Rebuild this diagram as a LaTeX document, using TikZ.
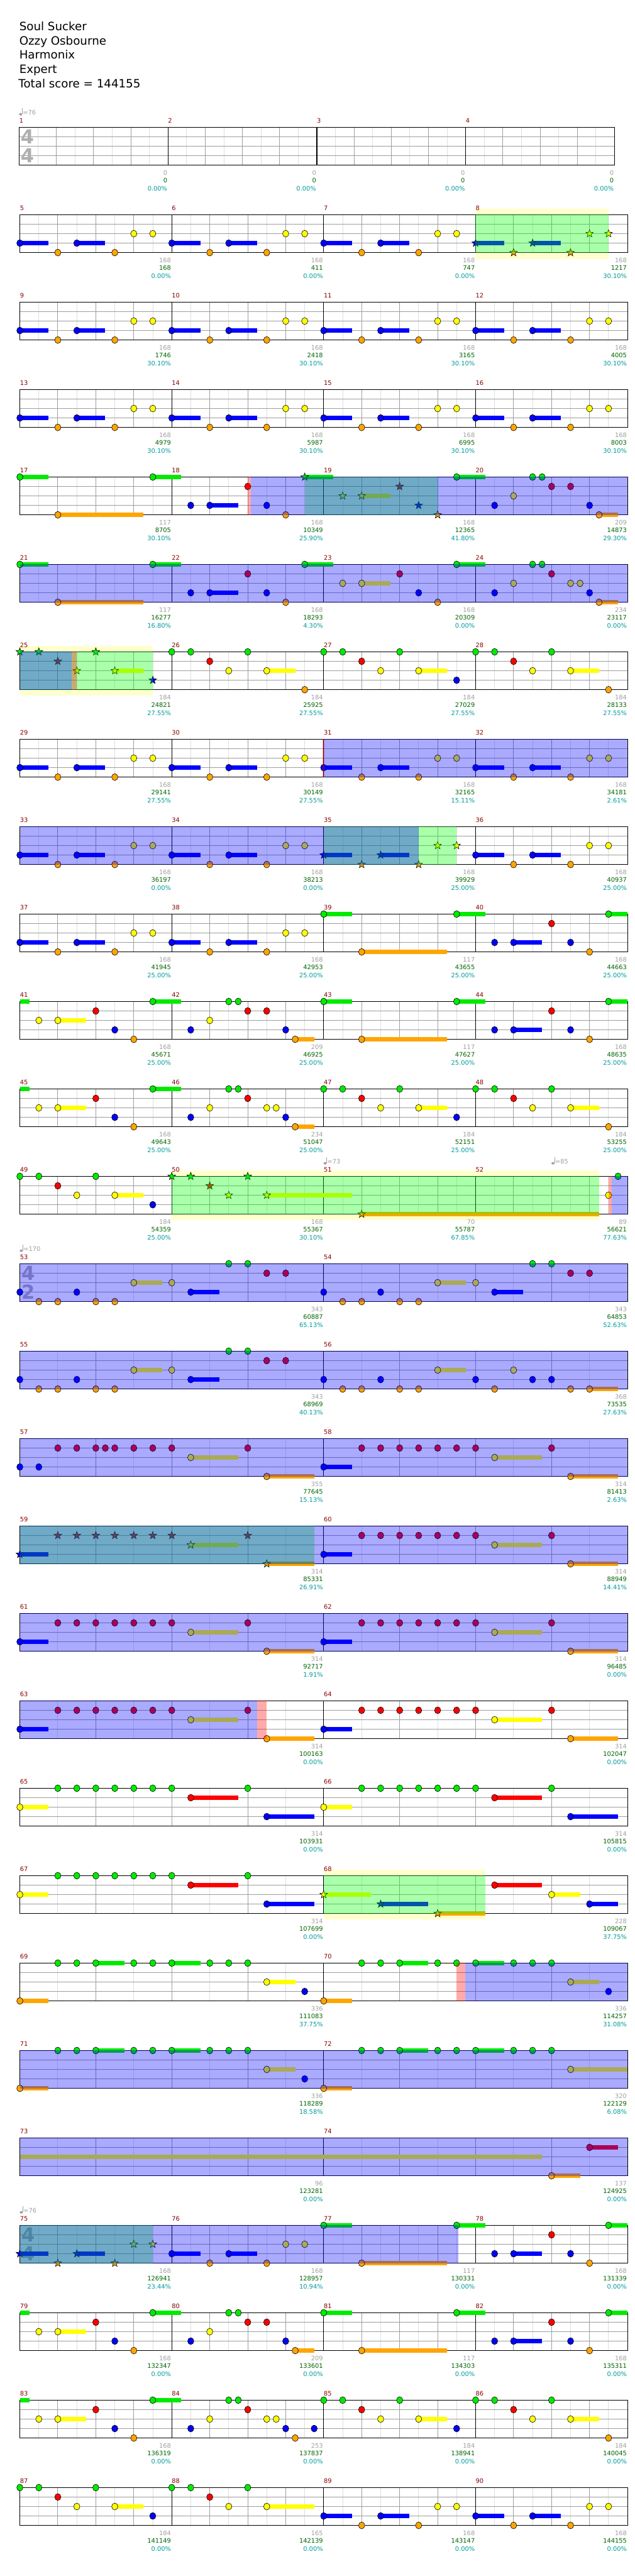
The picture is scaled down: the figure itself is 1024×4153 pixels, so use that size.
\documentclass[tikz,border=0pt]{standalone}
\usepackage{fontspec}
\setmainfont{DejaVu Sans}
\usepackage{tikz}

% fret colours (green, red, yellow, blue, orange)
\definecolor{fr0}{RGB}{0,235,0}
\definecolor{fr1}{RGB}{255,0,0}
\definecolor{fr2}{RGB}{255,255,0}
\definecolor{fr3}{RGB}{0,0,255}
\definecolor{fr4}{RGB}{255,165,0}
% text and grid colours
\definecolor{mnumc}{RGB}{139,0,0}
\definecolor{ptsc}{RGB}{160,160,160}
\definecolor{totc}{RGB}{0,100,0}
\definecolor{pctc}{RGB}{0,155,155}
\definecolor{tsigc}{RGB}{175,175,175}
\definecolor{bandc}{RGB}{255,255,206}
\definecolor{darkc}{RGB}{158,158,158}
\definecolor{lightc}{RGB}{222,222,222}

\tikzset{
  lane/.style={shift={(32,205.3+140.93*#1)},x=15.3125pt},
  rim/.style={draw=black,line width=0.6pt},
  lightln/.style={draw=lightc,line width=1pt},
  darkln/.style={draw=darkc,line width=1pt},
  barln/.style={draw=black,line width=1.1pt},
  smalltxt/.style={font=\fontsize{10}{12}\selectfont,inner sep=0pt},
  mnum/.style={smalltxt,text=mnumc,anchor=west},
  pts/.style={smalltxt,text=ptsc,anchor=east,xshift=-1pt},
  tot/.style={smalltxt,text=totc,anchor=east,xshift=-1pt},
  pct/.style={smalltxt,text=pctc,anchor=east,xshift=-1pt},
  hdr/.style={font=\fontsize{18.5}{23}\selectfont,anchor=base west,inner sep=0pt},
  tsig/.style={font=\bfseries\fontsize{31}{31}\selectfont,text=tsigc,inner sep=0pt}
}

% staff: light step, dark step, bar step (in ticks)
\newcommand{\drawgrid}[3]{%
  \fill[white] (0,0) rectangle (64,61);
  \foreach \t in {0,#1,...,64} {\draw[lightln] (\t,0) -- (\t,61);}
  \foreach \t in {0,#2,...,64} {\draw[darkln] (\t,0) -- (\t,61);}
  \foreach \f in {1,2,3} {\draw[darkln] (0,\f*15.25) -- (64,\f*15.25);}
  \foreach \t in {0,#3,...,64} {\draw[barln] (\t,0) -- (\t,61);}
  \draw[barln] (0,0) rectangle (64,61);}
% notes: tick, fret, sustain
\newcommand{\susbar}[3]{\fill[fr#2] (#1,#2*15.25-3.3) rectangle (#1+#3,#2*15.25+3.3);}
\newcommand{\gnote}[3]{\ifnum#3>0\relax\susbar{#1}{#2}{#3}\fi
  \filldraw[rim,fill=fr#2] (#1,#2*15.25) ellipse [x radius=5pt,y radius=5.5pt];}
\newcommand{\snote}[3]{\ifnum#3>0\relax\susbar{#1}{#2}{#3}\fi
  \filldraw[rim,fill=fr#2,shift={(#1,#2*15.25)}] (90:6.5pt) -- (126:2.7pt) -- (162:6.5pt)
    -- (198:2.7pt) -- (234:6.5pt) -- (270:2.7pt) -- (306:6.5pt) -- (342:2.7pt)
    -- (18:6.5pt) -- (54:2.7pt) -- cycle;}
% zones
\newcommand{\bandz}[2]{\fill[bandc] (#1,-10) rectangle (#2,71);}
\newcommand{\spz}[2]{\fill[green,fill opacity=0.333] (#1,0) rectangle (#2,61);}
\newcommand{\odz}[2]{\fill[blue,fill opacity=0.333] (#1,0) rectangle (#2,61);}
\newcommand{\actz}[2]{\fill[red,fill opacity=0.333] (#1,0) rectangle (#2,61);}
% labels
\newcommand{\meas}[6]{%
  \node[mnum] (m#1) at (#2,-10.5) {#1};
  \node[pts] (p#1) at (#3,73) {#4};
  \node[tot] (s#1) at (#3,86) {#5};
  \node[pct] (c#1) at (#3,99) {#6\%};}
\newcommand{\fourm}[1]{\foreach \mn/\mp/\ms/\mc [count=\k from 0] in {#1} {\meas{\mn}{16*\k}{16*\k+16}{\mp}{\ms}{\mc}}}
\newcommand{\twom}[1]{\foreach \mn/\mp/\ms/\mc [count=\k from 0] in {#1} {\meas{\mn}{32*\k}{32*\k+32}{\mp}{\ms}{\mc}}}
\newcommand{\bpm}[3]{%
  \fill[ptsc,xshift=2.3pt] (#1,-21) ellipse [x radius=2.6pt,y radius=2pt];
  \draw[ptsc,line width=0.8pt,xshift=4.7pt] (#1,-21.5) -- (#1,-31);
  \node[smalltxt,text=ptsc,anchor=west,xshift=5.6pt] (#3) at (#1,-24) {=#2};}
\newcommand{\tsg}[3]{\node[tsig] (#3a) at (0.88,15.4) {#1}; \node[tsig] (#3b) at (0.88,45.5) {#2};}
% repeated phrases
\newcommand{\patP}[2]{#1{#2}{3}{3}#1{#2+4}{4}{0}#1{#2+6}{3}{3}#1{#2+10}{4}{0}#1{#2+12}{2}{0}#1{#2+14}{2}{0}}
\newcommand{\patQ}[3]{#1{#2}{0}{0}#1{#2+2}{0}{0}#1{#2+4}{1}{0}#1{#2+6}{2}{0}#1{#2+8}{0}{0}#1{#2+10}{2}{#3}}
\newcommand{\patR}{\gnote{32}{0}{3}\gnote{36}{4}{9}\gnote{46}{0}{3}\gnote{50}{3}{0}\gnote{52}{3}{3}\gnote{56}{1}{0}\gnote{58}{3}{0}\gnote{60}{4}{0}\gnote{62}{0}{2}}
\newcommand{\patS}{\susbar{0}{0}{1}\gnote{2}{2}{0}\gnote{4}{2}{3}\gnote{8}{1}{0}\gnote{10}{3}{0}\gnote{12}{4}{0}\gnote{14}{0}{3}\gnote{18}{3}{0}\gnote{20}{2}{0}\gnote{22}{0}{0}\gnote{23}{0}{0}\gnote{24}{1}{0}\gnote{28}{3}{0}}
\newcommand{\patT}[1]{\gnote{#1}{3}{0}\gnote{#1+2}{4}{0}\gnote{#1+4}{4}{0}\gnote{#1+6}{3}{0}\gnote{#1+8}{4}{0}\gnote{#1+10}{4}{0}\gnote{#1+12}{2}{3}\gnote{#1+16}{2}{0}\gnote{#1+18}{3}{3}\gnote{#1+22}{0}{0}\gnote{#1+24}{0}{0}\gnote{#1+26}{1}{0}\gnote{#1+28}{1}{0}}
\newcommand{\patU}[2]{#1{#2}{3}{3}\foreach \d in {4,6,...,16}{#1{#2+\d}{1}{0}}#1{#2+18}{2}{5}#1{#2+24}{1}{0}#1{#2+26}{4}{5}}
\newcommand{\patV}[1]{\gnote{#1}{2}{3}\foreach \d in {4,6,...,16}{\gnote{#1+\d}{0}{0}}\gnote{#1+24}{0}{0}\gnote{#1+18}{1}{5}\gnote{#1+26}{3}{5}}
\newcommand{\patW}[1]{\gnote{#1}{4}{3}\gnote{#1+4}{0}{0}\gnote{#1+6}{0}{0}\gnote{#1+8}{0}{3}\gnote{#1+12}{0}{0}\gnote{#1+14}{0}{0}\gnote{#1+16}{0}{3}\gnote{#1+20}{0}{0}\gnote{#1+22}{0}{0}\gnote{#1+24}{0}{0}}

\begin{document}
\begin{tikzpicture}[x=1pt,y=-1pt]
  \fill[white] (0,0) rectangle (1024,4153);
  \useasboundingbox (0,0) rectangle (1024,4153);
  % header
  \node[hdr] (song) at (31,49.3) {Soul Sucker};
  \node[hdr] (artist) at (31,72.3) {Ozzy Osbourne};
  \node[hdr] (charter) at (31,95.3) {Harmonix};
  \node[hdr] (level) at (31,118.3) {Expert};
  \node[hdr] (total) at (29.7,141.3) {Total score = 144155};

  % measures 1-4
  \begin{scope}[shift={(31,205.3)},x=15pt]
    \drawgrid{2}{4}{16}
    \tsg{4}{4}{ts1}
    \bpm{0}{76}{bpm1}
    \fourm{1/0/0/0.00,2/0/0/0.00,3/0/0/0.00,4/0/0/0.00}
  \end{scope}
  % measures 5-8
  \begin{scope}[lane=1]
    \bandz{48}{62}
    \drawgrid{2}{4}{16}
    \foreach \o in {0,16,32} {\patP{\gnote}{\o}}
    \patP{\snote}{48}
    \spz{48}{62}
    \fourm{5/168/168/0.00,6/168/411/0.00,7/168/747/0.00,8/168/1217/30.10}
  \end{scope}
  % measures 9-12
  \begin{scope}[lane=2]
    \drawgrid{2}{4}{16}
    \foreach \o in {0,16,32,48} {\patP{\gnote}{\o}}
    \fourm{9/168/1746/30.10,10/168/2418/30.10,11/168/3165/30.10,12/168/4005/30.10}
  \end{scope}
  % measures 13-16
  \begin{scope}[lane=3]
    \drawgrid{2}{4}{16}
    \foreach \o in {0,16,32,48} {\patP{\gnote}{\o}}
    \fourm{13/168/4979/30.10,14/168/5987/30.10,15/168/6995/30.10,16/168/8003/30.10}
  \end{scope}
  % measures 17-20
  \begin{scope}[lane=4]
    \drawgrid{2}{4}{16}
    \gnote{0}{0}{3}\gnote{4}{4}{9}\gnote{14}{0}{3}\gnote{18}{3}{0}\gnote{20}{3}{3}
    \gnote{24}{1}{0}\gnote{26}{3}{0}\gnote{28}{4}{0}
    \snote{30}{0}{3}\snote{34}{2}{0}\snote{36}{2}{3}\snote{40}{1}{0}\snote{42}{3}{0}\snote{44}{4}{0}
    \gnote{46}{0}{3}\gnote{50}{3}{0}\gnote{52}{2}{0}\gnote{54}{0}{0}\gnote{55}{0}{0}
    \gnote{56}{1}{0}\gnote{58}{1}{0}\gnote{60}{3}{0}\gnote{61}{4}{2}
    \spz{30}{44}\odz{24.35}{64}\actz{24}{24.35}
    \fourm{17/117/8705/30.10,18/168/10349/25.90,19/168/12365/41.80,20/209/14873/29.30}
  \end{scope}
  % measures 21-24
  \begin{scope}[lane=5]
    \drawgrid{2}{4}{16}
    \gnote{0}{0}{3}\gnote{4}{4}{9}\gnote{14}{0}{3}\gnote{18}{3}{0}\gnote{20}{3}{3}
    \gnote{24}{1}{0}\gnote{26}{3}{0}\gnote{28}{4}{0}
    \gnote{30}{0}{3}\gnote{34}{2}{0}\gnote{36}{2}{3}\gnote{40}{1}{0}\gnote{42}{3}{0}\gnote{44}{4}{0}
    \gnote{46}{0}{3}\gnote{50}{3}{0}\gnote{52}{2}{0}\gnote{54}{0}{0}\gnote{55}{0}{0}
    \gnote{56}{1}{0}\gnote{58}{2}{0}\gnote{59}{2}{0}\gnote{60}{3}{0}\gnote{61}{4}{2}
    \odz{0}{64}
    \fourm{21/117/16277/16.80,22/168/18293/4.30,23/168/20309/0.00,24/234/23117/0.00}
  \end{scope}
  % measures 25-28
  \begin{scope}[lane=6]
    \bandz{0}{14}
    \drawgrid{2}{4}{16}
    \patQ{\snote}{0}{3}\snote{14}{3}{0}
    \patQ{\gnote}{16}{3}\gnote{30}{4}{0}
    \patQ{\gnote}{32}{3}\gnote{46}{3}{0}
    \patQ{\gnote}{48}{3}\gnote{62}{4}{0}
    \spz{0}{14}\odz{0}{5.45}\actz{5.45}{6}
    \fourm{25/184/24821/27.55,26/184/25925/27.55,27/184/27029/27.55,28/184/28133/27.55}
  \end{scope}
  % measures 29-32
  \begin{scope}[lane=7]
    \drawgrid{2}{4}{16}
    \foreach \o in {0,16,32,48} {\patP{\gnote}{\o}}
    \odz{32}{64}\actz{31.9}{32.1}
    \fourm{29/168/29141/27.55,30/168/30149/27.55,31/168/32165/15.11,32/168/34181/2.61}
  \end{scope}
  % measures 33-36
  \begin{scope}[lane=8]
    \drawgrid{2}{4}{16}
    \patP{\gnote}{0}\patP{\gnote}{16}\patP{\snote}{32}\patP{\gnote}{48}
    \spz{32}{46}\odz{0}{42}
    \fourm{33/168/36197/0.00,34/168/38213/0.00,35/168/39929/25.00,36/168/40937/25.00}
  \end{scope}
  % measures 37-40
  \begin{scope}[lane=9]
    \drawgrid{2}{4}{16}
    \patP{\gnote}{0}\patP{\gnote}{16}\patR
    \fourm{37/168/41945/25.00,38/168/42953/25.00,39/117/43655/25.00,40/168/44663/25.00}
  \end{scope}
  % measures 41-44
  \begin{scope}[lane=10]
    \drawgrid{2}{4}{16}
    \patS\gnote{26}{1}{0}\gnote{29}{4}{2}\patR
    \fourm{41/168/45671/25.00,42/209/46925/25.00,43/117/47627/25.00,44/168/48635/25.00}
  \end{scope}
  % measures 45-48
  \begin{scope}[lane=11]
    \drawgrid{2}{4}{16}
    \patS\gnote{26}{2}{0}\gnote{27}{2}{0}\gnote{29}{4}{2}
    \patQ{\gnote}{32}{3}\gnote{46}{3}{0}\patQ{\gnote}{48}{3}\gnote{62}{4}{0}
    \fourm{45/168/49643/25.00,46/234/51047/25.00,47/184/52151/25.00,48/184/53255/25.00}
  \end{scope}
  % measures 49-52
  \begin{scope}[lane=12]
    \bandz{16}{61}
    \drawgrid{2}{4}{16}
    \patQ{\gnote}{0}{3}\gnote{14}{3}{0}
    \patQ{\snote}{16}{9}\snote{36}{4}{25}
    \gnote{62}{2}{0}\gnote{63}{0}{0}
    \spz{16}{61}\actz{62}{62.35}\odz{62.35}{64}
    \bpm{32}{73}{bpm2}\bpm{56}{85}{bpm3}
    \fourm{49/184/54359/25.00,50/168/55367/30.10,51/70/55787/67.85,52/89/56621/77.63}
  \end{scope}
  % measures 53-54
  \begin{scope}[lane=13]
    \drawgrid{4}{8}{32}
    \tsg{4}{2}{ts2}
    \patT{0}\patT{32}
    \odz{0}{64}
    \bpm{0}{170}{bpm4}
    \twom{53/343/60887/65.13,54/343/64853/52.63}
  \end{scope}
  % measures 55-56
  \begin{scope}[lane=14]
    \drawgrid{4}{8}{32}
    \patT{0}
    \gnote{32}{3}{0}\gnote{34}{4}{0}\gnote{36}{4}{0}\gnote{38}{3}{0}\gnote{40}{4}{0}\gnote{42}{4}{0}
    \gnote{44}{2}{3}\gnote{48}{3}{0}\gnote{50}{4}{0}\gnote{52}{2}{0}\gnote{54}{3}{0}\gnote{56}{3}{0}
    \gnote{58}{4}{0}\gnote{60}{4}{3}
    \odz{0}{64}
    \twom{55/343/68969/40.13,56/368/73535/27.63}
  \end{scope}
  % measures 57-58
  \begin{scope}[lane=15]
    \drawgrid{4}{8}{32}
    \gnote{0}{3}{0}\gnote{2}{3}{0}
    \foreach \d in {4,6,8,9,10,12,14,16} {\gnote{\d}{1}{0}}
    \gnote{18}{2}{5}\gnote{24}{1}{0}\gnote{26}{4}{5}
    \patU{\gnote}{32}
    \odz{0}{64}
    \twom{57/355/77645/15.13,58/314/81413/2.63}
  \end{scope}
  % measures 59-60
  \begin{scope}[lane=16]
    \drawgrid{4}{8}{32}
    \patU{\snote}{0}\patU{\gnote}{32}
    \spz{0}{31}\odz{0}{64}
    \twom{59/314/85331/26.91,60/314/88949/14.41}
  \end{scope}
  % measures 61-62
  \begin{scope}[lane=17]
    \drawgrid{4}{8}{32}
    \patU{\gnote}{0}\patU{\gnote}{32}
    \odz{0}{64}
    \twom{61/314/92717/1.91,62/314/96485/0.00}
  \end{scope}
  % measures 63-64
  \begin{scope}[lane=18]
    \drawgrid{4}{8}{32}
    \patU{\gnote}{0}\patU{\gnote}{32}
    \odz{0}{25}\actz{25}{26}
    \twom{63/314/100163/0.00,64/314/102047/0.00}
  \end{scope}
  % measures 65-66
  \begin{scope}[lane=19]
    \drawgrid{4}{8}{32}
    \patV{0}\patV{32}
    \twom{65/314/103931/0.00,66/314/105815/0.00}
  \end{scope}
  % measures 67-68
  \begin{scope}[lane=20]
    \bandz{32}{49}
    \drawgrid{4}{8}{32}
    \patV{0}
    \snote{32}{2}{5}\snote{38}{3}{5}\snote{44}{4}{5}
    \gnote{50}{1}{5}\gnote{56}{2}{3}\gnote{60}{3}{3}
    \spz{32}{49}
    \twom{67/314/107699/0.00,68/228/109067/37.75}
  \end{scope}
  % measures 69-70
  \begin{scope}[lane=21]
    \drawgrid{4}{8}{32}
    \patW{0}\gnote{26}{2}{3}\gnote{30}{3}{0}
    \patW{32}\gnote{58}{2}{3}\gnote{62}{3}{0}
    \actz{46}{46.9}\odz{46.9}{64}
    \twom{69/336/111083/37.75,70/336/114257/31.08}
  \end{scope}
  % measures 71-72
  \begin{scope}[lane=22]
    \drawgrid{4}{8}{32}
    \patW{0}\gnote{26}{2}{3}\gnote{30}{3}{0}
    \patW{32}\gnote{58}{2}{6}
    \odz{0}{64}
    \twom{71/336/118289/18.58,72/320/122129/6.08}
  \end{scope}
  % measures 73-74
  \begin{scope}[lane=23]
    \drawgrid{4}{8}{32}
    \susbar{0}{2}{55}\gnote{56}{4}{3}\gnote{60}{1}{3}
    \odz{0}{64}
    \twom{73/96/123281/0.00,74/137/124925/0.00}
  \end{scope}
  % measures 75-78
  \begin{scope}[lane=24]
    \drawgrid{2}{4}{16}
    \tsg{4}{4}{ts3}
    \patP{\snote}{0}\patP{\gnote}{16}\patR
    \spz{0}{14}\odz{0}{46.2}
    \bpm{0}{76}{bpm5}
    \fourm{75/168/126941/23.44,76/168/128957/10.94,77/117/130331/0.00,78/168/131339/0.00}
  \end{scope}
  % measures 79-82
  \begin{scope}[lane=25]
    \drawgrid{2}{4}{16}
    \patS\gnote{26}{1}{0}\gnote{29}{4}{2}\patR
    \fourm{79/168/132347/0.00,80/209/133601/0.00,81/117/134303/0.00,82/168/135311/0.00}
  \end{scope}
  % measures 83-86
  \begin{scope}[lane=26]
    \drawgrid{2}{4}{16}
    \patS\gnote{26}{2}{0}\gnote{27}{2}{0}\gnote{29}{4}{0}\gnote{31}{3}{0}
    \patQ{\gnote}{32}{3}\gnote{46}{3}{0}\patQ{\gnote}{48}{3}\gnote{62}{4}{0}
    \fourm{83/168/136319/0.00,84/253/137837/0.00,85/184/138941/0.00,86/184/140045/0.00}
  \end{scope}
  % measures 87-90
  \begin{scope}[lane=27]
    \drawgrid{2}{4}{16}
    \patQ{\gnote}{0}{3}\gnote{14}{3}{0}\patQ{\gnote}{16}{5}
    \patP{\gnote}{32}\patP{\gnote}{48}
    \fourm{87/184/141149/0.00,88/165/142139/0.00,89/168/143147/0.00,90/168/144155/0.00}
  \end{scope}
\end{tikzpicture}
\end{document}
